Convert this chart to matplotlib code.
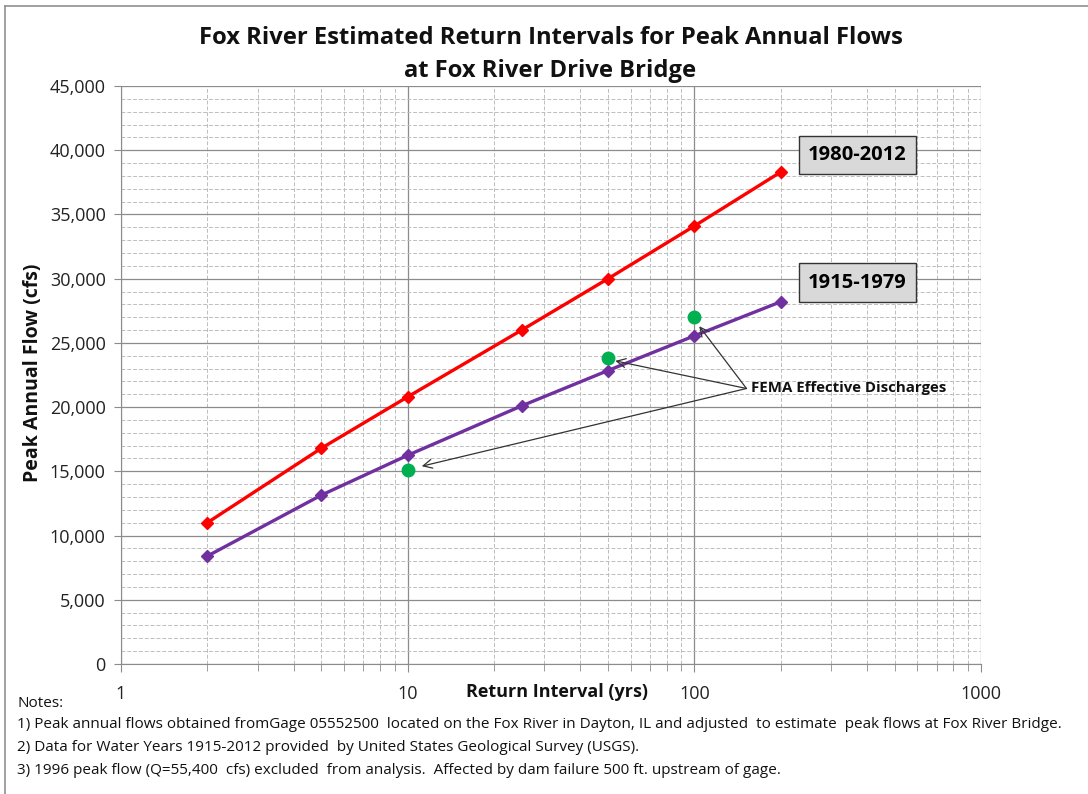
import numpy as np
import matplotlib.pyplot as plt
from matplotlib.ticker import FixedLocator, FuncFormatter, NullFormatter
from matplotlib.lines import Line2D

plt.rcParams['font.family'] = ['Open Sans', 'DejaVu Sans']

# Return intervals (years) and estimated peak annual flows (cfs)
return_years = [2, 5, 10, 25, 50, 100, 200]
flow_1980_2012 = [11000, 16800, 20800, 26000, 30000, 34100, 38300]
flow_1915_1979 = [8400, 13150, 16250, 20100, 22850, 25550, 28200]

# FEMA effective discharges
fema_years = [10, 50, 100]
fema_flows = [15100, 23800, 27000]

notes = [
    "Notes:",
    "1) Peak annual flows obtained fromGage 05552500  located on the Fox River in Dayton, IL and adjusted  to estimate  peak flows at Fox River Bridge.",
    "2) Data for Water Years 1915-2012 provided  by United States Geological Survey (USGS).",
    "3) 1996 peak flow (Q=55,400  cfs) excluded  from analysis.  Affected by dam failure 500 ft. upstream of gage.",
]

fig = plt.figure(figsize=(10.88, 7.94), dpi=100)
ax = fig.add_axes([0.1112, 0.1637, 0.7905, 0.728])

ax.set_xscale('log')
ax.set_xlim(1, 1000)
ax.set_ylim(0, 45000)

ax.yaxis.set_major_locator(FixedLocator(np.arange(0, 45001, 5000)))
ax.yaxis.set_minor_locator(FixedLocator(np.arange(0, 45001, 1000)))
ax.yaxis.set_major_formatter(FuncFormatter(lambda v, p: f"{int(v):,}"))
ax.xaxis.set_major_locator(FixedLocator([1, 10, 100, 1000]))
minor_x = [m * 10 ** d for d in range(3) for m in range(2, 10)]
ax.xaxis.set_minor_locator(FixedLocator(minor_x))
ax.xaxis.set_major_formatter(FuncFormatter(lambda v, p: f"{int(v)}"))
ax.xaxis.set_minor_formatter(NullFormatter())

ax.grid(which='major', color='#8c8c8c', linewidth=0.9, linestyle='-')
ax.grid(which='minor', color='#bdbdbd', linewidth=0.7, linestyle=(0, (4, 2)))
ax.set_axisbelow(True)

for side in ['top', 'right']:
    ax.spines[side].set_visible(False)
for side in ['left', 'bottom']:
    ax.spines[side].set_color('#8c8c8c')

ax.tick_params(axis='both', which='both', colors='#8c8c8c', labelcolor='#222222', labelsize=13)
ax.tick_params(axis='y', which='minor', length=0)
ax.tick_params(axis='x', which='major', length=6, pad=9)
ax.tick_params(axis='x', which='minor', length=5)
ax.tick_params(axis='y', which='major', length=5, pad=6)

ax.plot(return_years, flow_1980_2012, color='#ff0000', linewidth=2.4,
        marker='D', markersize=6, zorder=3)
ax.plot(return_years, flow_1915_1979, color='#7030a0', linewidth=2.4,
        marker='D', markersize=6, zorder=3)
ax.plot(fema_years, fema_flows, linestyle='none', marker='o', markersize=9,
        color='#00b050', zorder=4)

# series labels in boxes to the right of the last point
box = dict(boxstyle='square,pad=0.45', facecolor='#d9d9d9', edgecolor='#333333', linewidth=1)
ax.text(370, 39650, "1980-2012", fontsize=14.5, fontweight='bold', ha='center', va='center', bbox=box)
ax.text(370, 29700, "1915-1979", fontsize=14.5, fontweight='bold', ha='center', va='center', bbox=box)

# arrows to the FEMA discharges
tail = (152, 21450)
for tip in [(104, 26300), (53, 23600), (11.2, 15400)]:
    ax.annotate("", xy=tip, xytext=tail,
                arrowprops=dict(arrowstyle='->', color='#333333', linewidth=0.9,
                                shrinkA=0, shrinkB=0, mutation_scale=16))
ax.text(157, 21450, "FEMA Effective Discharges", fontsize=10.8, fontweight='bold',
        ha='left', va='center', color='#111111')

fig.text(0.506, 0.952, "Fox River Estimated Return Intervals for Peak Annual Flows",
         ha='center', va='center', fontsize=17.1, fontweight='bold', color='#111111')
fig.text(0.506, 0.910, "at Fox River Drive Bridge",
         ha='center', va='center', fontsize=17.1, fontweight='bold', color='#111111')

fig.text(0.03, 0.531, "Peak Annual Flow (cfs)", rotation=90, ha='center', va='center',
         fontsize=14, fontweight='bold', color='#111111')
fig.text(0.512, 0.128, "Return Interval (yrs)", ha='center', va='center',
         fontsize=13, fontweight='bold', color='#111111')

note_y = [0.114, 0.088, 0.058, 0.029]
for line, y in zip(notes, note_y):
    fig.text(0.016, y, line, ha='left', va='center', fontsize=10.95, color='#111111')

# light frame along the top and left edges
fig.add_artist(Line2D([0.005, 1.0], [0.993, 0.993], color='#909090', linewidth=1.2))
fig.add_artist(Line2D([0.005, 0.005], [0.0, 0.993], color='#909090', linewidth=1.2))

fig.savefig('out.png', dpi=100)
